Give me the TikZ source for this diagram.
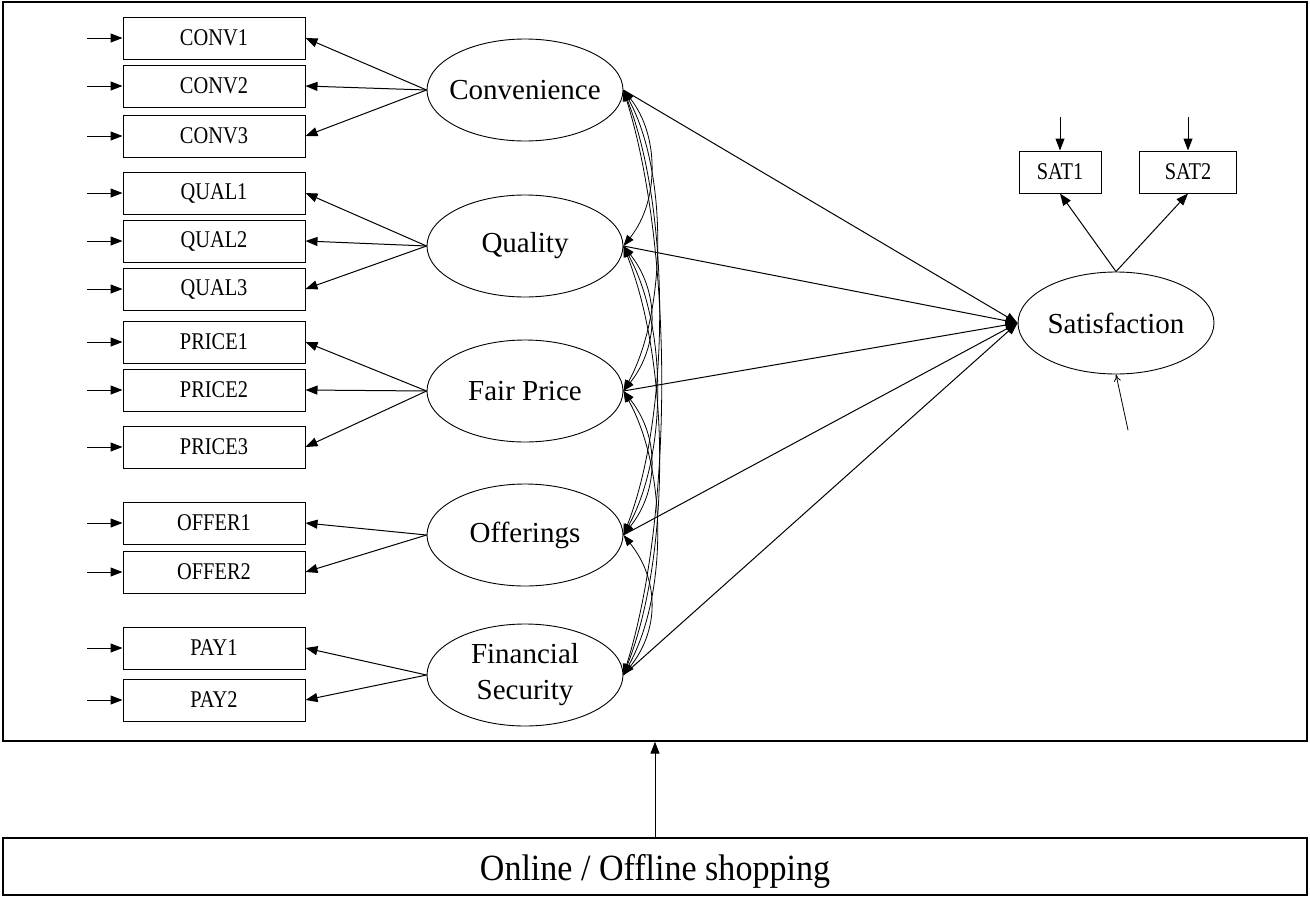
\documentclass[tikz,border=0pt]{standalone}
\usepackage{fontspec}
\setmainfont{Liberation Serif}
\usepackage{graphicx}
\usetikzlibrary{arrows.meta,shapes.geometric}
\newcommand{\nar}[1]{\scalebox{0.85}[1]{#1}}
\begin{document}
\begin{tikzpicture}[x=1pt,y=-1pt,
  ind/.style={draw, line width=1pt, minimum width=182pt, minimum height=42pt, inner sep=0pt, font=\fontsize{24}{26}\selectfont},
  lat/.style={ellipse, draw, line width=0.9pt, minimum width=196pt, minimum height=102pt, inner sep=0pt},
  lab/.style={font=\fontsize{29}{36}\selectfont, align=center},
  arr/.style={-{Triangle[length=12pt,width=9pt]}, line width=1pt},
  cov/.style={{Triangle[length=11pt,width=8pt]}-{Triangle[length=11pt,width=8pt]}, line width=0.8pt},
  thinarr/.style={-{To[length=7pt,width=7pt]}, line width=0.8pt}
]
\useasboundingbox (0,0) rectangle (1310,897);

% frames
\node[draw, line width=1.4pt, minimum width=1304pt, minimum height=739pt, inner sep=0pt] (frame) at (655,371.5) {};
\node[draw, line width=1.4pt, minimum width=1304pt, minimum height=57pt, inner sep=0pt,
  label={[font=\fontsize{37}{40}\selectfont, yshift=-5pt]center:\scalebox{0.92}[1]{Online / Offline shopping}}] (shop) at (655,866.5) {};
\draw[arr] (shop.north) -- (frame.south);

% latent variables
\node[lat, label={[lab]center:Convenience}] (conv) at (525,90) {};
\node[lat, label={[lab]center:Quality}] (qual) at (525,246) {};
\node[lat, label={[lab]center:Fair Price}] (price) at (525,391) {};
\node[lat, label={[lab]center:Offerings}] (offer) at (525,535) {};
\node[lat, label={[lab]center:Financial\\Security}] (pay) at (525,675) {};
\node[lat, label={[lab]center:Satisfaction}] (sat) at (1116,323) {};

% indicators
\node[ind] (conv1) at (214,38) {\nar{CONV1}};
\node[ind] (conv2) at (214,86) {\nar{CONV2}};
\node[ind] (conv3) at (214,136) {\nar{CONV3}};
\node[ind] (qual1) at (214,193) {\nar{QUAL1}};
\node[ind] (qual2) at (214,241) {\nar{QUAL2}};
\node[ind] (qual3) at (214,289) {\nar{QUAL3}};
\node[ind] (price1) at (214,342) {\nar{PRICE1}};
\node[ind] (price2) at (214,390) {\nar{PRICE2}};
\node[ind] (price3) at (214,447) {\nar{PRICE3}};
\node[ind] (offer1) at (214,523) {\nar{OFFER1}};
\node[ind] (offer2) at (214,572) {\nar{OFFER2}};
\node[ind] (pay1) at (214,648) {\nar{PAY1}};
\node[ind] (pay2) at (214,700) {\nar{PAY2}};
\node[ind, minimum width=82pt] (sat1) at (1060,172) {\nar{SAT1}};
\node[ind, minimum width=97pt] (sat2) at (1188,172) {\nar{SAT2}};

% error terms
\foreach \n/\y in {conv1/38,conv2/86,conv3/136,qual1/193,qual2/241,qual3/289,price1/342,price2/390,price3/447,offer1/523,offer2/572,pay1/648,pay2/700}{
  \coordinate (e\n) at (87,\y);
  \draw[arr] (e\n) -- (\n.west);
}
\coordinate (esat1) at (1060,117);
\coordinate (esat2) at (1188,117);
\draw[arr] (esat1) -- (sat1.north);
\draw[arr] (esat2) -- (sat2.north);
\coordinate (esat) at (1128,430);
\draw[thinarr] (esat) -- (sat.south);

% loadings
\foreach \l/\list in {conv/{conv1,conv2,conv3},qual/{qual1,qual2,qual3},price/{price1,price2,price3},offer/{offer1,offer2},pay/{pay1,pay2}}{
  \foreach \i in \list { \draw[arr] (\l.west) -- (\i.east); }
}
\draw[arr] (sat.north) -- (sat1.south);
\draw[arr] (sat.north) -- (sat2.south);

% structural paths
\foreach \l in {conv,qual,price,offer,pay}{ \draw[arr] (\l.east) -- (sat.west); }

% covariances
\draw[cov] (conv.east) .. controls +(36,45) and +(36,-45) .. (qual.east);
\draw[cov] (qual.east) .. controls +(36,45) and +(36,-45) .. (price.east);
\draw[cov] (price.east) .. controls +(36,45) and +(36,-45) .. (offer.east);
\draw[cov] (offer.east) .. controls +(36,45) and +(36,-45) .. (pay.east);
\draw[cov] (conv.east) .. controls +(44,80) and +(44,-80) .. (price.east);
\draw[cov] (qual.east) .. controls +(44,80) and +(44,-80) .. (offer.east);
\draw[cov] (price.east) .. controls +(44,80) and +(44,-80) .. (pay.east);
\draw[cov] (conv.east) .. controls +(47,120) and +(47,-120) .. (offer.east);
\draw[cov] (qual.east) .. controls +(47,120) and +(47,-120) .. (pay.east);
\draw[cov] (conv.east) .. controls +(50,160) and +(50,-160) .. (pay.east);
\end{tikzpicture}
\end{document}
